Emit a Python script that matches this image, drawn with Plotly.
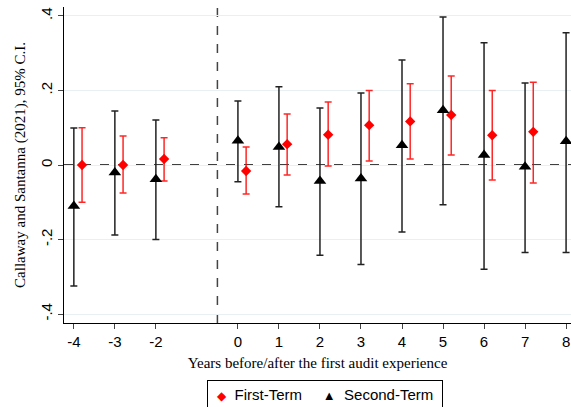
import plotly.graph_objects as go

# Data
years = [-4, -3, -2, 0, 1, 2, 3, 4, 5, 6, 7, 8]
second_est = [-0.110, -0.020, -0.038, 0.065, 0.048, -0.043, -0.036, 0.053, 0.147, 0.027, -0.005, 0.064]
second_hi = [0.099, 0.145, 0.121, 0.172, 0.210, 0.153, 0.193, 0.282, 0.397, 0.328, 0.220, 0.355]
second_lo = [-0.325, -0.188, -0.200, -0.045, -0.112, -0.242, -0.267, -0.180, -0.107, -0.280, -0.235, -0.235]

first_years = [-4, -3, -2, 0, 1, 2, 3, 4, 5, 6, 7]
first_est = [0.000, 0.000, 0.016, -0.016, 0.056, 0.081, 0.107, 0.117, 0.134, 0.080, 0.089]
first_hi = [0.100, 0.078, 0.073, 0.048, 0.137, 0.169, 0.200, 0.218, 0.239, 0.200, 0.222]
first_lo = [-0.100, -0.075, -0.043, -0.078, -0.027, -0.003, 0.011, 0.016, 0.027, -0.040, -0.048]

x_ticks = [-4, -3, -2, 0, 1, 2, 3, 4, 5, 6, 7, 8]
x_tick_labels = ["-4", "-3", "-2", "0", "1", "2", "3", "4", "5", "6", "7", "8"]
y_ticks = [-0.4, -0.2, 0, 0.2, 0.4]
y_tick_labels = ["-.4", "-.2", "0", ".2", ".4"]

offset = 0.2
fx = [x + offset for x in first_years]

fig = go.Figure()

fig.add_trace(go.Scatter(
    x=fx, y=first_est, mode="markers", name="First-Term",
    marker=dict(symbol="diamond", color="red", size=8),
    error_y=dict(type="data", symmetric=False,
                 array=[h - e for h, e in zip(first_hi, first_est)],
                 arrayminus=[e - l for l, e in zip(first_lo, first_est)],
                 color="rgba(255,0,0,0.85)", thickness=1.5, width=3.5),
))

fig.add_trace(go.Scatter(
    x=years, y=second_est, mode="markers", name="Second-Term",
    marker=dict(symbol="triangle-up", color="black", size=11),
    error_y=dict(type="data", symmetric=False,
                 array=[h - e for h, e in zip(second_hi, second_est)],
                 arrayminus=[e - l for l, e in zip(second_lo, second_est)],
                 color="#222222", thickness=1.5, width=3.5),
))

fig.add_hline(y=0, line=dict(color="black", width=1.5, dash="dash"), layer="below")
fig.add_vline(x=-0.5, line=dict(color="#444444", width=1.5, dash="dash"), layer="below")

nb = "\u00a0"
legend_text = (nb + "<span style='color:red;font-size:12px'>\u25c6</span>" + nb + nb + "First-Term" + nb * 5 +
               "<span style='font-size:13px'>\u25b2</span>" + nb + nb + "Second-Term" + nb)
fig.add_annotation(
    text=legend_text, xref="paper", yref="paper", x=0.514, y=-0.18,
    xanchor="center", yanchor="top", showarrow=False,
    font=dict(family="Liberation Sans, Arial", size=15, color="black"),
    bordercolor="black", borderwidth=1, borderpad=5, bgcolor="white",
)

fig.update_layout(
    width=571, height=407,
    margin=dict(l=64, r=0, t=7, b=84),
    plot_bgcolor="white", paper_bgcolor="white",
    showlegend=False,
    xaxis=dict(range=[-4.24, 8.12], tickvals=x_ticks, ticktext=x_tick_labels,
               ticks="outside", ticklen=5,
               showline=True, linecolor="black", linewidth=1, showgrid=False, zeroline=False,
               tickfont=dict(family="Liberation Sans, Arial", size=15, color="black"),
               title=dict(text="Years before/after the first audit experience",
                          font=dict(family="Liberation Serif, Times New Roman", size=15, color="black"),
                          standoff=8)),
    yaxis=dict(range=[-0.424, 0.424], tickvals=y_ticks, ticktext=y_tick_labels,
               ticks="outside", ticklen=5, tickangle=-90,
               showline=True, linecolor="black", linewidth=1,
               showgrid=True, gridcolor="#e8f0f1", gridwidth=1, zeroline=False,
               tickfont=dict(family="Liberation Sans, Arial", size=15, color="black"),
               title=dict(text="Callaway and Santanna (2021), 95% C.I.",
                          font=dict(family="Liberation Serif, Times New Roman", size=15, color="black"),
                          standoff=8)),
)

fig.write_html("out.html")
